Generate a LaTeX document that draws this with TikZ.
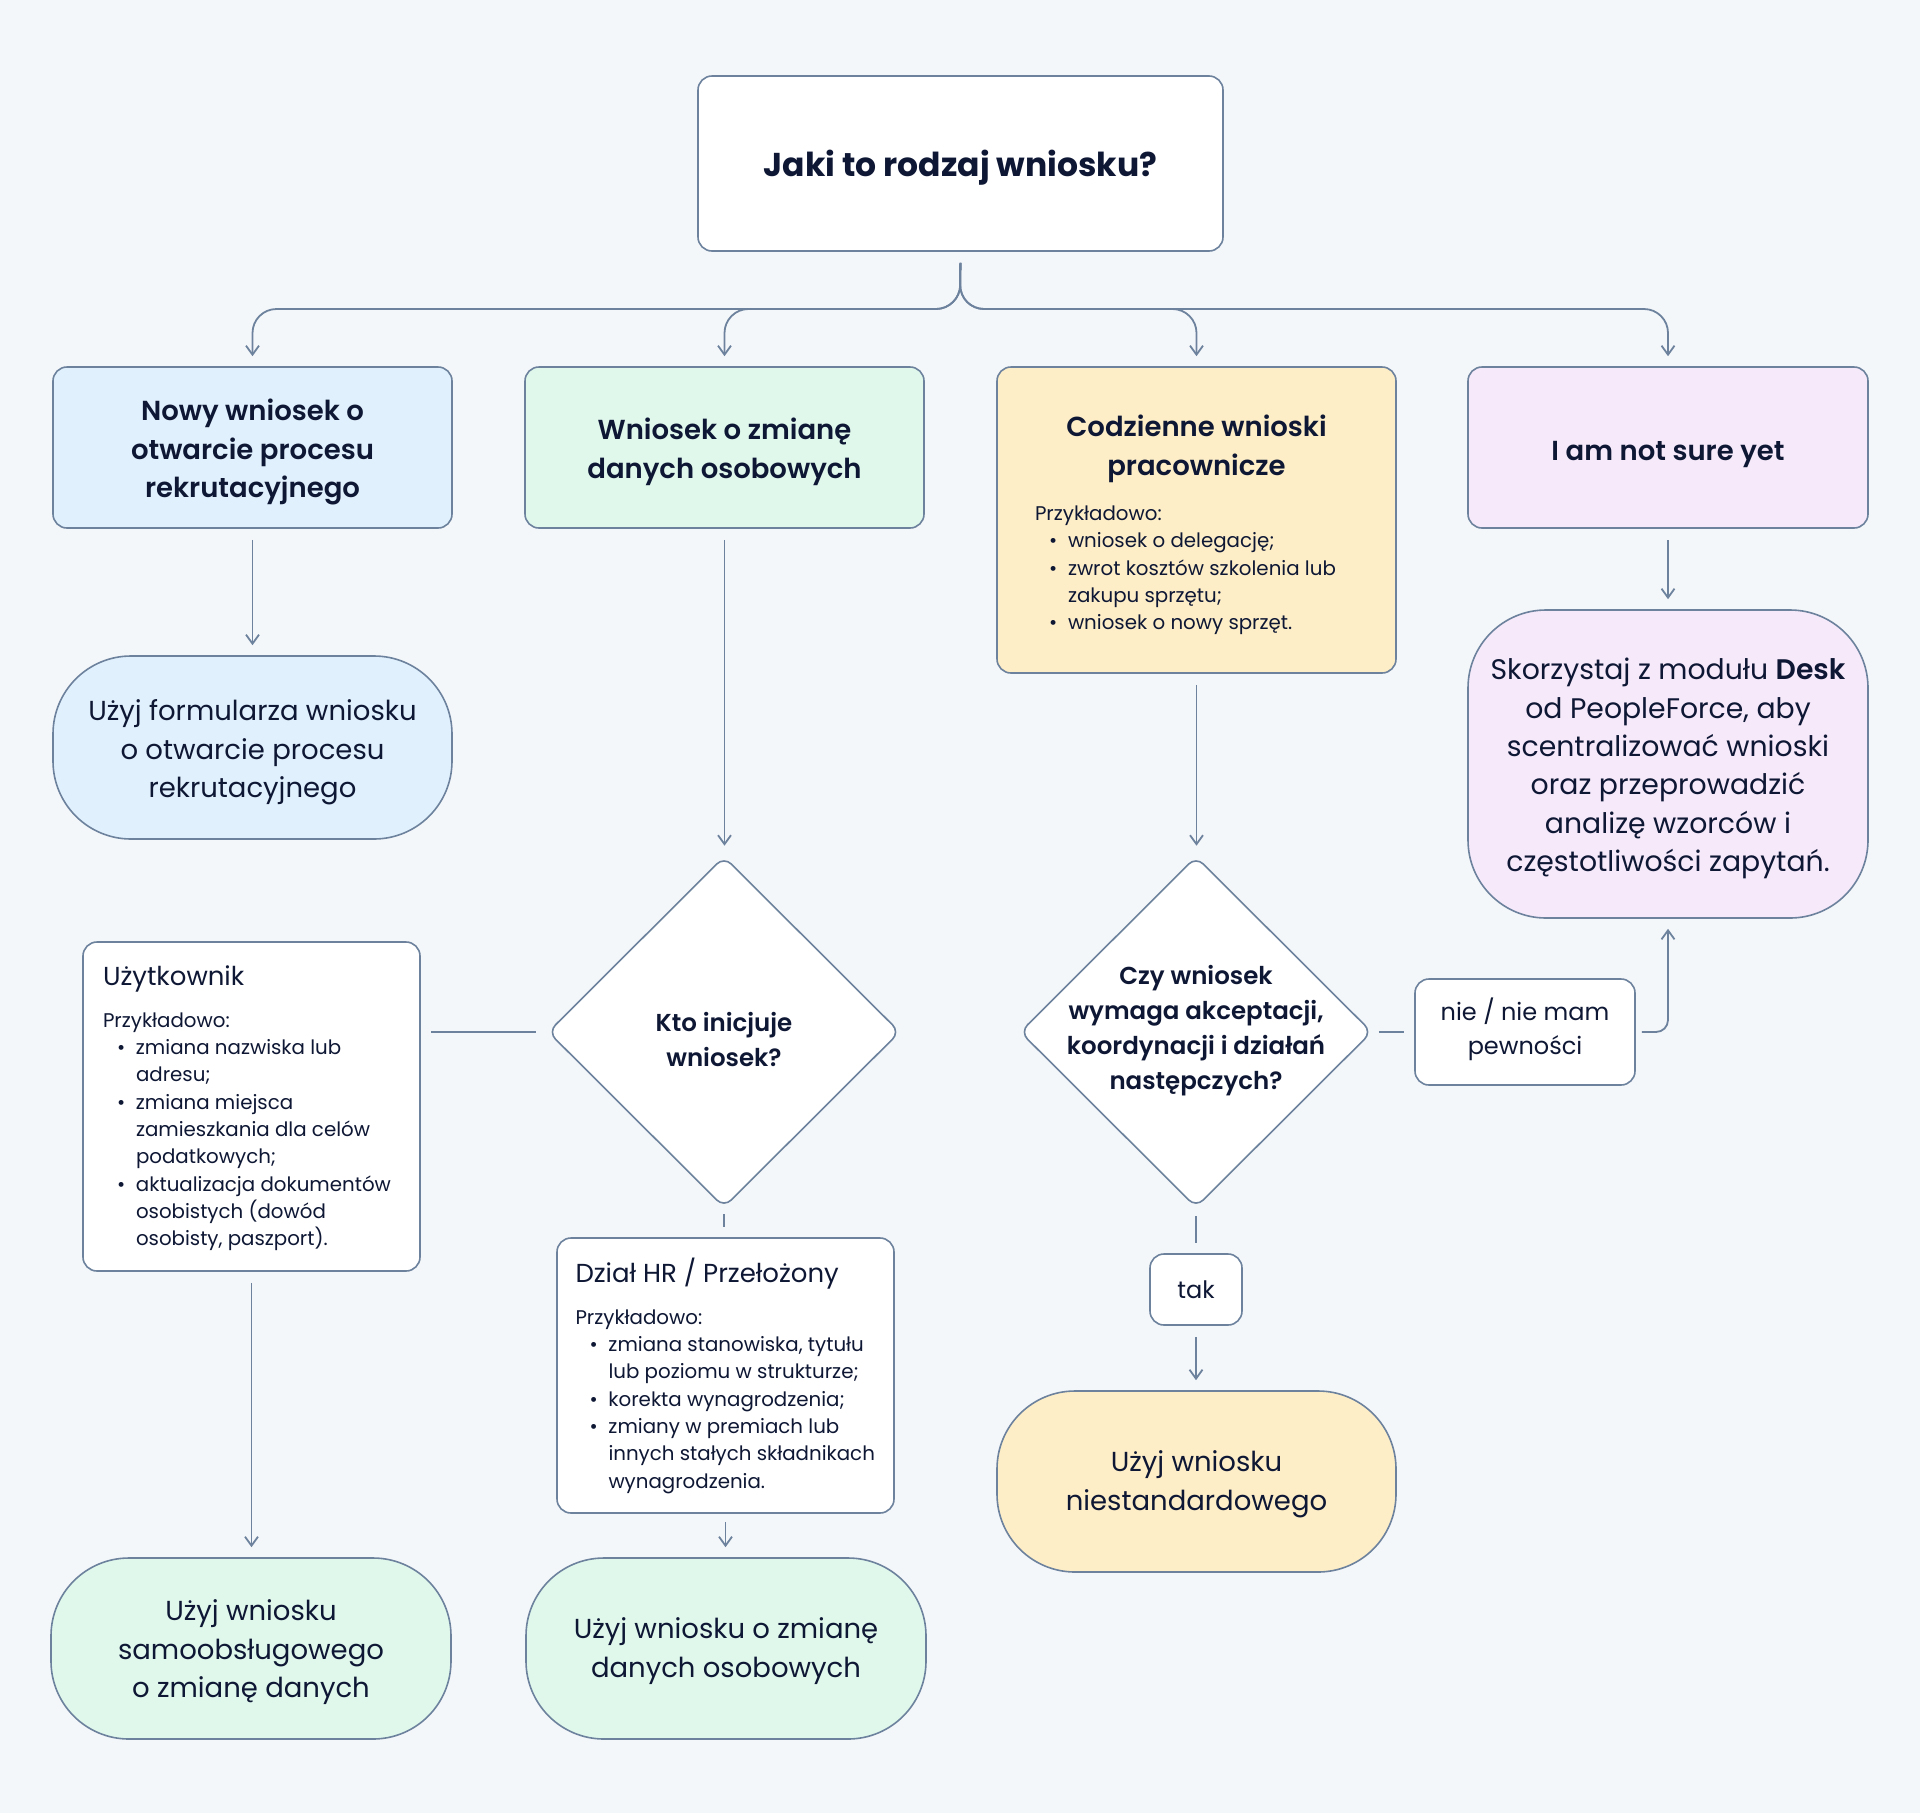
\documentclass[tikz,border=0pt]{standalone}
\usepackage{fontspec}
\setmainfont{Poppins}
\newfontfamily\semib{Poppins SemiBold}
\usetikzlibrary{shapes.geometric,arrows.meta}
\definecolor{bg}{HTML}{F4F7FA}
\definecolor{bd}{HTML}{6D829D}
\definecolor{tx}{HTML}{0E1734}
\definecolor{fblue}{HTML}{E0F0FC}
\definecolor{fgreen}{HTML}{E0F8EC}
\definecolor{fyellow}{HTML}{FDEEC8}
\definecolor{fpurple}{HTML}{F5E9FA}
\newcommand\hfnt{\semib\fontsize{27.5}{38.5}\selectfont}
\newcommand\rfnt{\fontsize{27.5}{38.5}\selectfont}
\newcommand\sfnt{\fontsize{19.8}{27.3}\selectfont}
\newcommand\dfnt{\semib\fontsize{24.5}{35}\selectfont}
\newcommand\lfnt{\fontsize{24}{34}\selectfont}
\newcommand\exhead{\fontsize{26}{32}\selectfont}
\newcommand\bl[1]{\hspace*{14pt}\makebox[19pt][l]{•}#1}
\newcommand\cl[1]{\hspace*{33pt}#1}
% move content vertically without changing its reported size
\newcommand\mv[2]{\raisebox{#1}[\height][\depth]{\begin{tabular}{@{}c@{}}#2\end{tabular}}}
\begin{document}
\begin{tikzpicture}[x=1pt,y=-1pt,
  box/.style={draw=bd, line width=1.6pt, rounded corners=14pt, fill=white, text=tx, inner sep=0pt, align=center},
  pill/.style={box, rounded corners=78pt, font=\rfnt},
  dia/.style={diamond, draw=bd, line width=1.6pt, rounded corners=10pt, fill=white, minimum width=352pt, minimum height=351pt, inner sep=0pt},
  dtext/.style={text=tx, align=center, font=\dfnt},
  conn/.style={draw=bd, line width=1.8pt, shorten <=11pt, shorten >=10pt},
  arr/.style={conn, -{Straight Barb[length=9pt,width=13pt]}}]
\fill[bg] (0,0) rectangle (1920,1813);
\useasboundingbox (0,0) rectangle (1920,1813);

% top
\node[box, minimum width=525pt, minimum height=175pt, font=\bfseries\fontsize{33}{40}\selectfont] (top) at (960.5,163.5) {\mv{-5pt}{Jaki to rodzaj wniosku?}};

% row 1
\node[box, fill=fblue, minimum width=399pt, minimum height=161pt, font=\hfnt] (b1) at (252.5,447.5) {\mv{-4pt}{Nowy wniosek o\\otwarcie procesu\\rekrutacyjnego}};
\node[box, fill=fgreen, minimum width=399pt, minimum height=161pt, font=\hfnt] (b2) at (724.5,447.5) {\mv{-4pt}{Wniosek o zmianę\\danych osobowych}};
\node[box, fill=fyellow, minimum width=399pt, minimum height=306pt] (b3) at (1196.5,520) {\raisebox{-5pt}[\height][\depth]{\begin{minipage}{323pt}\centering{\hfnt Codzienne wnioski\\pracownicze\par}\vspace{18pt}\raggedright\sfnt Przykładowo:\\\bl{wniosek o delegację;}\\\bl{zwrot kosztów szkolenia lub}\\\cl{zakupu sprzętu;}\\\bl{wniosek o nowy sprzęt.}\end{minipage}}};
\node[box, fill=fpurple, minimum width=400pt, minimum height=161pt, font=\hfnt] (b4) at (1668,447.5) {\mv{-5pt}{I am not sure yet}};

% results row 1
\node[pill, fill=fblue, minimum width=399pt, minimum height=183pt] (r1) at (252.5,747.5) {\mv{-4pt}{Użyj formularza wniosku\\o otwarcie procesu\\rekrutacyjnego}};
\node[pill, fill=fpurple, minimum width=400pt, minimum height=308pt, font=\fontsize{28.3}{38.3}\selectfont] (r5) at (1668,764) {\mv{-4pt}{Skorzystaj z modułu {\semib Desk}\\od PeopleForce, aby\\scentralizować wnioski\\oraz przeprowadzić\\analizę wzorców i\\częstotliwości zapytań.}};

% diamonds
\node[dia] (d1) at (724,1032) {};
\node[dtext] (d1t) at (724,1039) {Kto inicjuje\\wniosek?};
\node[dia] (d2) at (1196,1032) {};
\node[dtext] (d2t) at (1196,1031) {Czy wniosek\\wymaga akceptacji,\\koordynacji i działań\\następczych?};

% example boxes
\node[box, minimum width=337pt, minimum height=329pt] (user) at (251.5,1106.5) {\raisebox{-2pt}[\height][\depth]{\begin{minipage}{297pt}\raggedright{\exhead Użytkownik\par}\vspace{14pt}\sfnt Przykładowo:\\\bl{zmiana nazwiska lub}\\\cl{adresu;}\\\bl{zmiana miejsca}\\\cl{zamieszkania dla celów}\\\cl{podatkowych;}\\\bl{aktualizacja dokumentów}\\\cl{osobistych (dowód}\\\cl{osobisty, paszport).}\end{minipage}}};
\node[box, minimum width=337pt, minimum height=275pt] (hr) at (725.5,1375.5) {\begin{minipage}{300pt}\raggedright{\exhead Dział HR / Przełożony\par}\vspace{15pt}\sfnt Przykładowo:\\\bl{zmiana stanowiska, tytułu}\\\cl{lub poziomu w strukturze;}\\\bl{korekta wynagrodzenia;}\\\bl{zmiany w premiach lub}\\\cl{innych stałych składnikach}\\\cl{wynagrodzenia.}\end{minipage}};

% labels
\node[box, minimum width=220pt, minimum height=106pt, font=\lfnt] (nie) at (1525,1032) {\mv{1pt}{nie / nie mam\\pewności}};
\node[box, minimum width=92pt, minimum height=71pt, font=\lfnt] (tak) at (1196,1289.5) {tak};

% bottom results
\node[pill, fill=fyellow, minimum width=399pt, minimum height=181pt] (r2) at (1196.5,1481.5) {\mv{-2pt}{Użyj wniosku\\niestandardowego}};
\node[pill, fill=fgreen, minimum width=400pt, minimum height=181pt] (r3) at (251,1648.5) {\mv{-3pt}{Użyj wniosku\\samoobsługowego\\o zmianę danych}};
\node[pill, fill=fgreen, minimum width=400pt, minimum height=181pt] (r4) at (726,1648.5) {\mv{-2pt}{Użyj wniosku o zmianę\\danych osobowych}};

% connectors
\coordinate (fork) at (960,309);
\draw[arr, rounded corners=24pt] (top.south) -- (fork) -| (b1.north);
\draw[arr, rounded corners=24pt] (top.south) -- (fork) -| (b2.north);
\draw[arr, rounded corners=24pt] (top.south) -- (fork) -| (b3.north);
\draw[arr, rounded corners=24pt] (top.south) -- (fork) -| (b4.north);
\draw[arr] (b1.south) -- (r1.north);
\draw[arr] (b2.south) -- (b2.south |- d1.north);
\draw[arr] (b3.south) -- (b3.south |- d2.north);
\draw[arr] (b4.south) -- (r5.north);
\draw[conn] (d1.west) -- (d1.west -| user.east);
\draw[arr] (user.south) -- (user.south |- r3.north);
\draw[conn, shorten <=6pt] (d1.south) -- (d1.south |- hr.north);
\draw[arr, shorten <=8pt] (hr.south) -- (hr.south |- r4.north);
\draw[conn, shorten <=6pt] (d2.east) -- (nie.west);
\draw[arr, rounded corners=12pt, shorten <=6pt] (nie.east) -| (r5.south);
\draw[conn, shorten <=8pt] (d2.south) -- (tak.north);
\draw[arr] (tak.south) -- (tak.south |- r2.north);
\end{tikzpicture}
\end{document}
